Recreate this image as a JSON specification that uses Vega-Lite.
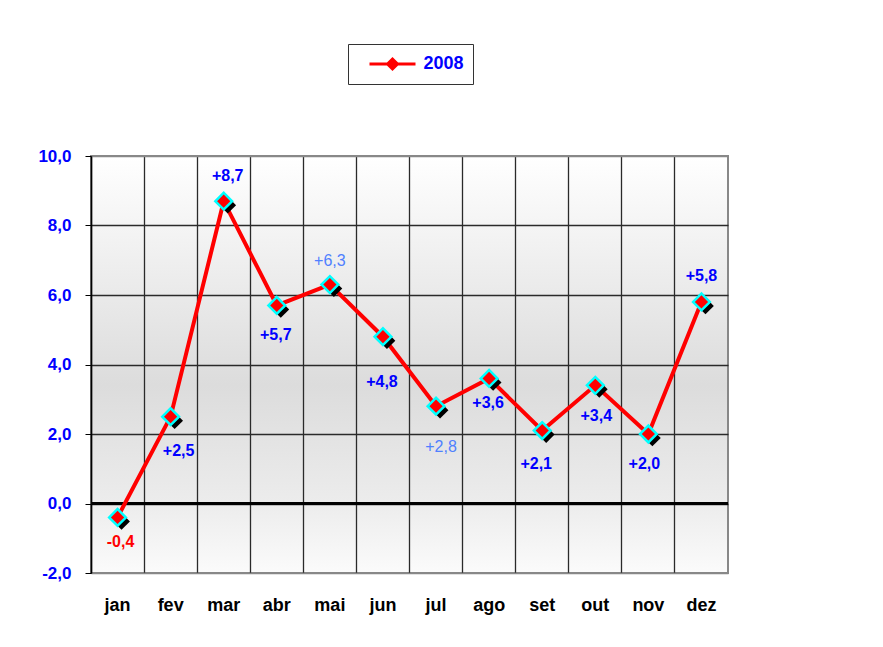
{
  "$schema": "https://vega.github.io/schema/vega-lite/v6.json",
  "width": 637,
  "height": 417,
  "autosize": {"type": "none"},
  "padding": {"left": 91, "top": 156, "right": 155, "bottom": 74},
  "background": "#ffffff",
  "config": {
    "font": "Liberation Sans",
    "locale": {"number": {"decimal": ",", "thousands": ".", "grouping": [3], "currency": ["", ""], "minus": "-"}},
    "view": {
      "stroke": "#888888",
      "strokeWidth": 2,
      "fill": {"gradient": "linear", "x1": 0, "y1": 0, "x2": 0, "y2": 1,
        "stops": [{"offset": 0, "color": "#ffffff"}, {"offset": 0.55, "color": "#dcdcdc"}, {"offset": 0.83, "color": "#ececec"}, {"offset": 1, "color": "#fbfbfb"}]}
    }
  },
  "data": {"values": [
    {"m": "jan", "v": -0.4},
    {"m": "fev", "v": 2.5},
    {"m": "mar", "v": 8.7},
    {"m": "abr", "v": 5.7},
    {"m": "mai", "v": 6.3},
    {"m": "jun", "v": 4.8},
    {"m": "jul", "v": 2.8},
    {"m": "ago", "v": 3.6},
    {"m": "set", "v": 2.1},
    {"m": "out", "v": 3.4},
    {"m": "nov", "v": 2.0},
    {"m": "dez", "v": 5.8}
  ]},
  "encoding": {
    "x": {"field": "m", "type": "nominal", "sort": null,
      "scale": {"type": "band", "paddingInner": 0, "paddingOuter": 0},
      "axis": {"title": null, "labelAngle": 0, "domain": false, "ticks": false, "grid": true, "bandPosition": 0,
        "gridColor": "#2a2a2a", "gridWidth": 1.3, "gridOpacity": 1,
        "labelFont": "Liberation Sans", "labelFontWeight": "bold", "labelFontSize": 18, "labelColor": "#000000", "labelPadding": 23}},
    "y": {"field": "v", "type": "quantitative",
      "scale": {"domain": [-2, 10], "nice": false, "zero": false},
      "axis": {"title": null, "values": [-2, 0, 2, 4, 6, 8, 10], "format": ".1f",
        "grid": true, "gridColor": {"condition": {"test": "datum.value == 10 || datum.value == -2", "value": "#888888"}, "value": "#2a2a2a"},
        "gridOpacity": 1, "gridWidth": 1.3,
        "domainColor": "#000000", "domainWidth": 1.5, "tickColor": "#000000", "tickSize": 6,
        "labelFont": "Liberation Sans", "labelFontWeight": "bold", "labelFontSize": 17, "labelColor": "#0000ff", "labelPadding": 14}}
  },
  "layer": [
    {"mark": {"type": "rule", "color": "#000000", "strokeWidth": 2}, "encoding": {"x": null, "y": {"datum": 0}}},
    {"mark": {"type": "line", "strokeWidth": 4},
      "encoding": {"stroke": {"datum": "2008", "type": "nominal", "scale": {"range": ["#ff0000"]},
        "legend": {"orient": "none", "legendX": 257, "legendY": -112, "title": null,
          "symbolType": "M 0.15 0 L 4.75 0 M 1.95 0 L 2.45 -0.5 L 2.95 0 L 2.45 0.5 Z",
          "symbolSize": 400, "symbolStrokeWidth": 3, "symbolFillColor": "#ff0000",
          "labelColor": "#0000ff", "labelFont": "Liberation Sans", "labelFontWeight": "bold", "labelFontSize": 18,
          "labelOffset": 44, "strokeColor": "#333333", "fillColor": "#ffffff", "padding": 8.5}}}},
    {"mark": {"type": "point", "shape": "square", "angle": 45, "filled": true, "color": "#000000", "size": 140, "xOffset": 4, "yOffset": 4, "opacity": 1}},
    {"mark": {"type": "point", "shape": "square", "angle": 45, "filled": true, "fill": "#ff0000", "stroke": "#00ffff", "strokeWidth": 2.5, "size": 140, "opacity": 1}},
    {"transform": [{"filter": "datum.m == 'jan'"}], "mark": {"type": "text", "dx": 3, "dy": 25, "color": "#ff0000", "fontWeight": "bold", "fontSize": 16}, "encoding": {"text": {"field": "v", "type": "quantitative", "format": "+.1f"}}},
    {"transform": [{"filter": "datum.m == 'fev'"}], "mark": {"type": "text", "dx": 8, "dy": 34, "color": "#0000ff", "fontWeight": "bold", "fontSize": 16}, "encoding": {"text": {"field": "v", "type": "quantitative", "format": "+.1f"}}},
    {"transform": [{"filter": "datum.m == 'mar'"}], "mark": {"type": "text", "dx": 4, "dy": -25, "color": "#0000ff", "fontWeight": "bold", "fontSize": 16}, "encoding": {"text": {"field": "v", "type": "quantitative", "format": "+.1f"}}},
    {"transform": [{"filter": "datum.m == 'abr'"}], "mark": {"type": "text", "dx": -1, "dy": 30, "color": "#0000ff", "fontWeight": "bold", "fontSize": 16}, "encoding": {"text": {"field": "v", "type": "quantitative", "format": "+.1f"}}},
    {"transform": [{"filter": "datum.m == 'mai'"}], "mark": {"type": "text", "dx": 0, "dy": -24, "color": "#4f80ff", "fontWeight": "normal", "fontSize": 16}, "encoding": {"text": {"field": "v", "type": "quantitative", "format": "+.1f"}}},
    {"transform": [{"filter": "datum.m == 'jun'"}], "mark": {"type": "text", "dx": -1, "dy": 45, "color": "#0000ff", "fontWeight": "bold", "fontSize": 16}, "encoding": {"text": {"field": "v", "type": "quantitative", "format": "+.1f"}}},
    {"transform": [{"filter": "datum.m == 'jul'"}], "mark": {"type": "text", "dx": 5, "dy": 41, "color": "#4f80ff", "fontWeight": "normal", "fontSize": 16}, "encoding": {"text": {"field": "v", "type": "quantitative", "format": "+.1f"}}},
    {"transform": [{"filter": "datum.m == 'ago'"}], "mark": {"type": "text", "dx": -1, "dy": 25, "color": "#0000ff", "fontWeight": "bold", "fontSize": 16}, "encoding": {"text": {"field": "v", "type": "quantitative", "format": "+.1f"}}},
    {"transform": [{"filter": "datum.m == 'set'"}], "mark": {"type": "text", "dx": -6, "dy": 33, "color": "#0000ff", "fontWeight": "bold", "fontSize": 16}, "encoding": {"text": {"field": "v", "type": "quantitative", "format": "+.1f"}}},
    {"transform": [{"filter": "datum.m == 'out'"}], "mark": {"type": "text", "dx": 1, "dy": 31, "color": "#0000ff", "fontWeight": "bold", "fontSize": 16}, "encoding": {"text": {"field": "v", "type": "quantitative", "format": "+.1f"}}},
    {"transform": [{"filter": "datum.m == 'nov'"}], "mark": {"type": "text", "dx": -4, "dy": 30, "color": "#0000ff", "fontWeight": "bold", "fontSize": 16}, "encoding": {"text": {"field": "v", "type": "quantitative", "format": "+.1f"}}},
    {"transform": [{"filter": "datum.m == 'dez'"}], "mark": {"type": "text", "dx": 0, "dy": -26, "color": "#0000ff", "fontWeight": "bold", "fontSize": 16}, "encoding": {"text": {"field": "v", "type": "quantitative", "format": "+.1f"}}}
  ]
}
